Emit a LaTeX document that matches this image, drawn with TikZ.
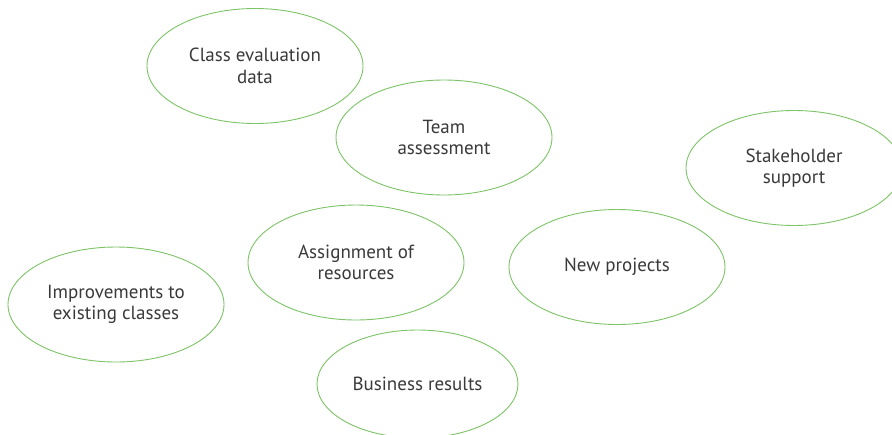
\documentclass[tikz,border=0pt]{standalone}
\usepackage{fontspec}
\setmainfont{PT Sans}
\usetikzlibrary{shapes.geometric}
\definecolor{leafgreen}{HTML}{7CC466}
\definecolor{inkgray}{HTML}{3A3A3A}

\begin{document}
\begin{tikzpicture}[x=1pt, y=-1pt,
  bubble/.style={ellipse, draw=leafgreen, line width=0.9pt, fill=white,
    minimum width=216pt, minimum height=115pt, inner sep=0pt,
    align=center, text=inkgray, font=\fontsize{19}{21.5}\selectfont}]
\clip (0,0) rectangle (892,434);

\node[bubble] (classdata) at (255,66) {Class evaluation\\data};
\node[bubble] (team) at (444,137.5) {Team\\assessment};
\node[bubble] (stakeholders) at (794,168) {Stakeholder\\support};

\node[bubble] (resources) at (356,262.5) {Assignment of\\resources};
\node[bubble] (newproj) at (617,267) {New projects};
\node[bubble] (improve) at (116,304.5) {Improvements to\\existing classes};

\node[bubble, minimum width=201pt, minimum height=108pt] (business) at (417.5,384) {Business results};
\end{tikzpicture}
\end{document}
